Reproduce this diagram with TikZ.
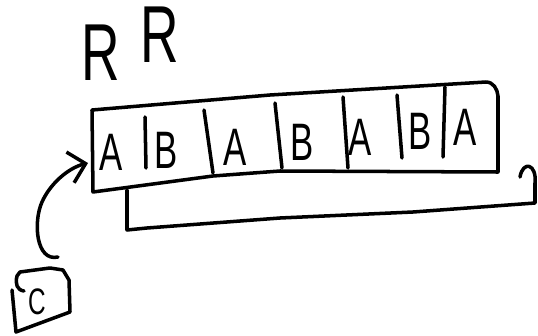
\documentclass[tikz,border=0pt]{standalone}
\usepackage{fontspec}
\setmainfont{Liberation Sans}
\usetikzlibrary{arrows.meta,calc}
\newcommand{\narrowtxt}[1]{\scalebox{0.66}[1]{#1}}

\begin{document}
\begin{tikzpicture}[
    x=0.02cm, y=-0.02cm,
    line width=2pt, line cap=round, line join=round,
    cell/.style={inner sep=0pt,font=\fontsize{30}{30}\selectfont},
    bigR/.style={inner sep=0pt,font=\fontsize{46}{46}\selectfont},
    small/.style={inner sep=0pt,font=\fontsize{21}{21}\selectfont},
    feed/.style={-{Straight Barb[length=9pt,width=18pt]}},
]
\useasboundingbox (0,0) rectangle (538,335);

% ---- the two R's on top ----
\node[bigR] (r1) at (101,53) {\narrowtxt{R}};
\node[bigR] (r2) at (160,35) {\narrowtxt{R}};

% ---- tape outline ----
\coordinate (tapein) at (88,163);
\draw (92,110) -- (270,95) -- (486,82) to[out=0,in=95] (498,96)
   -- (498,172) -- (280,171) -- (213,176) -- (93,192) -- cycle;

% cell dividers
\draw (145,117) -- (146,168);
\draw (204,110) -- (213,173);
\draw (275,103) -- (282,168);
\draw (343,97) -- (348,168);
\draw (397,95) -- (402,158);
\draw (445,87) -- (443,157);

% cells
\node[cell] (a1) at (111,152) {\narrowtxt{A}};
\node[cell] (b1) at (166,150) {\narrowtxt{B}};
\node[cell] (a2) at (235,147) {\narrowtxt{A}};
\node[cell] (b2) at (302,142) {\narrowtxt{B}};
\node[cell] (a3) at (360,137) {\narrowtxt{A}};
\node[cell] (b3) at (420,131) {\narrowtxt{B}};
\node[cell] (a4) at (465,127) {\narrowtxt{A}};

% ---- bracket under the tape ----
\draw (127,190) -- (127,230) -- (147,228) -- (280,218) -- (413,212)
   -- (535,203) -- (535,183) .. controls (537,164) and (523,160) .. (520,177);

% ---- C box feeding the first cell ----
\node[small] (c) at (37,302) {\narrowtxt{C}};
\coordinate (cstart) at (58,257);
\draw (24,291) .. controls (17,290) and (15,284) .. (17,276) -- (20,272)
   -- (50,268) -- (63,270) -- (69,280) -- (70,312) -- (16,332) -- (12,290);
\draw[feed] (cstart) .. controls (36,262) and (33,222) .. (42,202)
   .. controls (50,184) and (68,168) .. (tapein);
\end{tikzpicture}
\end{document}
